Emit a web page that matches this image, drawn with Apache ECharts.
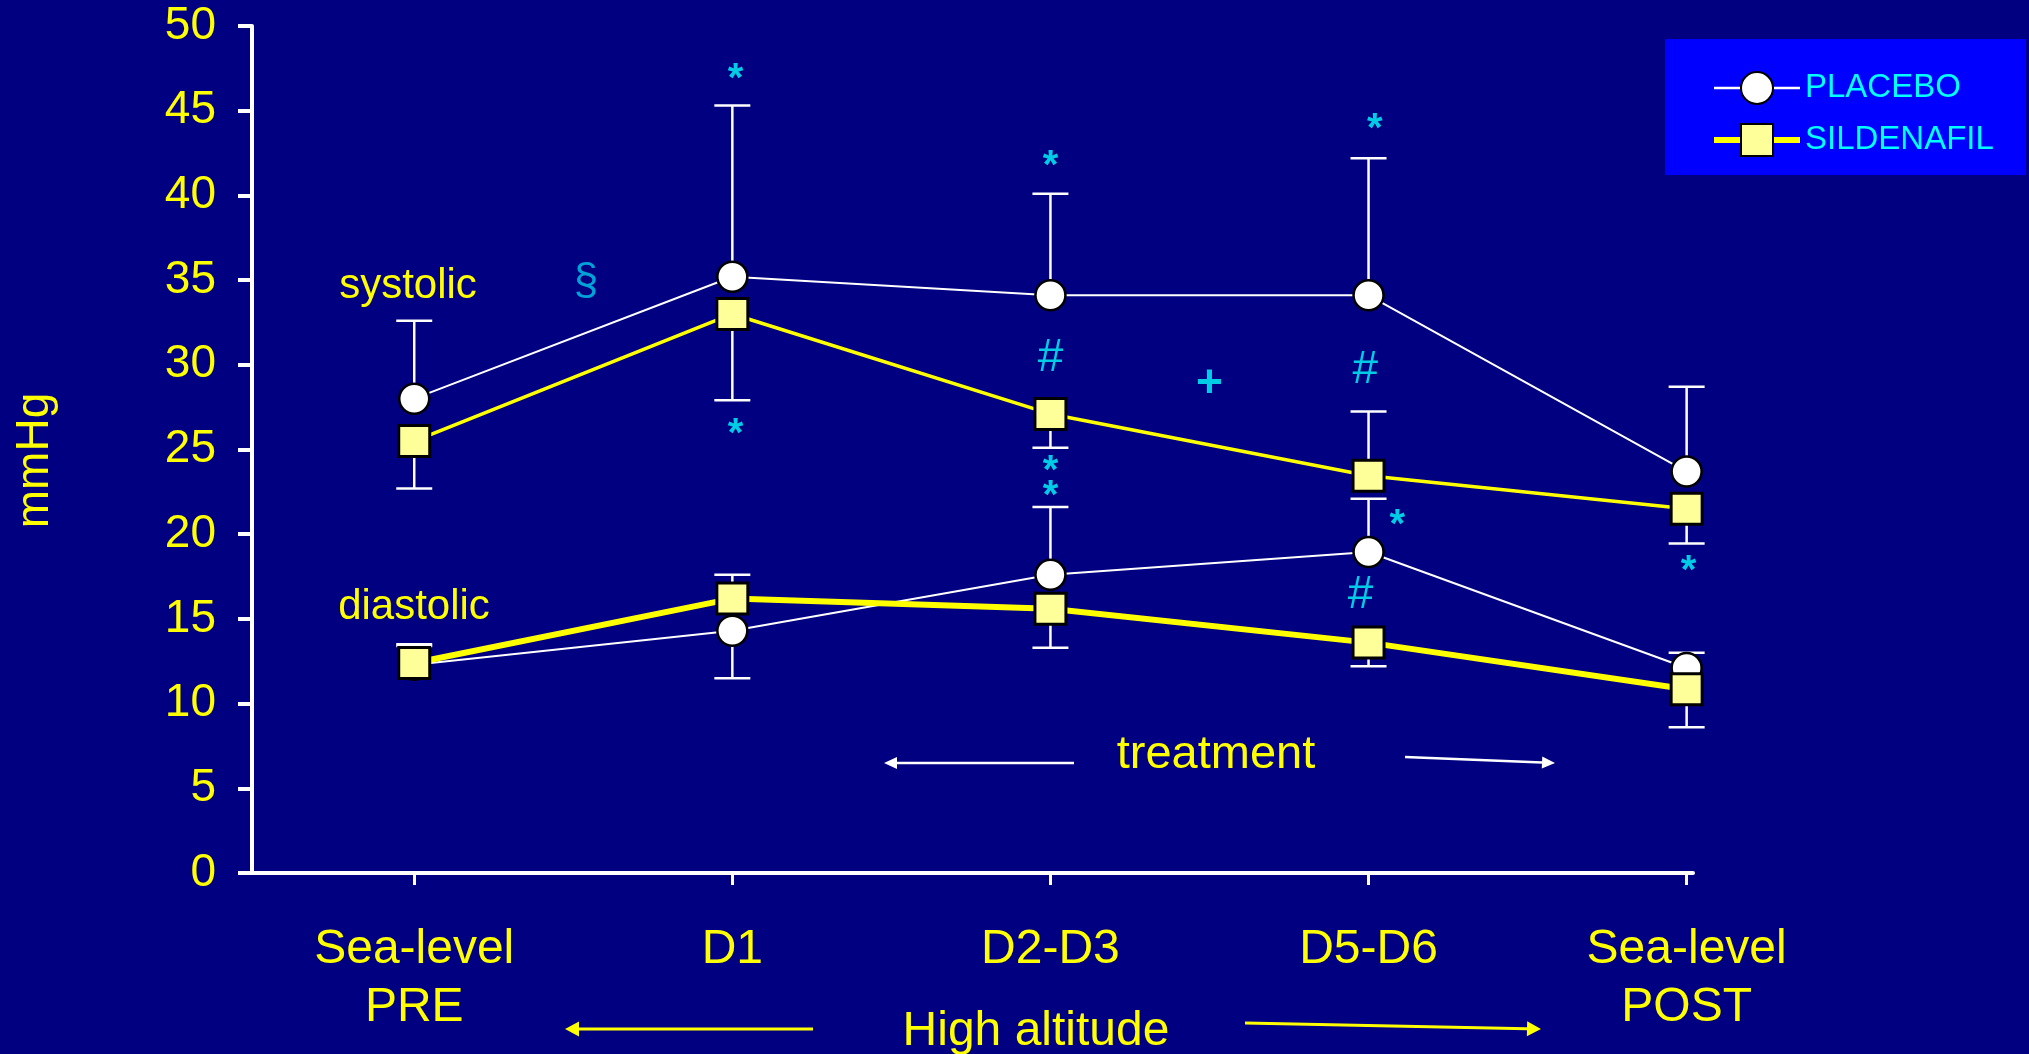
<!DOCTYPE html>
<html><head><meta charset="utf-8">
<script src="https://cdn.jsdelivr.net/npm/echarts@6/dist/echarts.min.js"></script>
<style>html,body{margin:0;padding:0;background:#000080;overflow:hidden}#c{width:2029px;height:1054px;}</style>
</head><body><div id="c"></div>
<script>
// ---- data ----
const categories = ['Sea-level\nPRE', 'D1', 'D2-D3', 'D5-D6', 'Sea-level\nPOST'];
const categoryPositions = [0, 1, 2, 3, 4];
const placeboSystolic = [28.0, 35.2, 34.1, 34.1, 23.7];
const placeboSystolicErrEnd = [32.6, 45.3, 40.1, 42.2, 28.7];
const sildenafilSystolic = [25.5, 33.0, 27.1, 23.45, 21.5];
const sildenafilSystolicErrEnd = [22.7, 27.9, 25.1, 27.25, 19.45];
const placeboDiastolic = [12.3, 14.3, 17.6, 18.95, 12.1];
const placeboDiastolicErrEnd = [13.4, 11.5, 21.6, 22.1, 13.0];
const sildenafilDiastolic = [12.4, 16.2, 15.6, 13.6, 10.85];
const sildenafilDiastolicErrEnd = [13.5, 17.6, 13.3, 12.2, 8.6];
const annotationText = ['*', '§', '*', '*', '#', '+', '*', '#', '*', '*', '*', '#', '*'];
const annotationX = [1.01, 0.54, 1.01, 2.0, 2.0, 2.5, 3.02, 2.99, 2.0, 2.0, 3.09, 2.975, 4.006];
const annotationY = [47.2, 35.1, 26.3, 42.1, 30.6, 29.1, 44.3, 29.9, 24.1, 22.6, 20.9, 16.6, 18.2];

// ---- helpers ----
const FONT = 'Liberation Sans, Arial, sans-serif';
const YELLOW = '#FFFF00';
const CYAN = '#00FFFF';

function pairs(vals) { return vals.map((v, i) => [categoryPositions[i], v]); }
function errData(vals, ends) { return vals.map((v, i) => [categoryPositions[i], v, ends[i]]); }

function errRender(params, api) {
  const x = api.value(0), y0 = api.value(1), y1 = api.value(2);
  const p0 = api.coord([x, y0]), p1 = api.coord([x, y1]);
  const hw = 18;
  const style = { stroke: '#FFFFFF', lineWidth: 2.5 };
  return { type: 'group', children: [
    { type: 'line', shape: { x1: p0[0], y1: p0[1], x2: p1[0], y2: p1[1] }, style },
    { type: 'line', shape: { x1: p1[0] - hw, y1: p1[1], x2: p1[0] + hw, y2: p1[1] }, style }
  ]};
}

function errSeries(vals, ends) {
  return {
    type: 'custom', renderItem: errRender, data: errData(vals, ends),
    encode: { x: 0, y: [1, 2] }, z: 2, silent: true
  };
}

function arrow(x1, y1, x2, y2, color, w, headLen, headW) {
  const ang = Math.atan2(y2 - y1, x2 - x1);
  const bx = x2 - headLen * Math.cos(ang), by = y2 - headLen * Math.sin(ang);
  const px = -Math.sin(ang) * headW / 2, py = Math.cos(ang) * headW / 2;
  return [
    { type: 'line', shape: { x1, y1, x2: bx, y2: by }, style: { stroke: color, lineWidth: w }, z: 5 },
    { type: 'polygon', shape: { points: [[x2, y2], [bx + px, by + py], [bx - px, by - py]] }, style: { fill: color }, z: 5 }
  ];
}

const placeboItem = { color: '#FFFFFF', borderColor: '#000000', borderWidth: 2.5 };
const sildItem = { color: '#FFFF99', borderColor: '#000000', borderWidth: 3 };

function annotLabel(t) {
  if (t === '*') return { color: CYAN, fontSize: 40, fontWeight: 'bold', offset: [0, 7] };
  if (t === '§') return { color: '#00CCEE', fontSize: 44, offset: [0, 3] };
  if (t === '#') return { color: CYAN, fontSize: 46, offset: [0, 4] };
  return { color: CYAN, fontSize: 46, fontWeight: 'bold', offset: [0, 4] };
}

const annotData = annotationText.map((t, i) => ({
  value: [annotationX[i], annotationY[i], t],
  label: annotLabel(t)
}));

const chart = echarts.init(document.getElementById('c'), null, { renderer: 'canvas' });
chart.setOption({
  backgroundColor: '#000080',
  animation: false,
  textStyle: { fontFamily: FONT },
  grid: { left: 252, right: 336, top: 26, bottom: 181, containLabel: false },
  xAxis: {
    type: 'value', min: -0.51, max: 4.02,
    splitLine: { show: false },
    axisLine: { show: true, onZero: false, lineStyle: { color: '#FFFFFF', width: 4 } },
    axisTick: { show: true, customValues: categoryPositions, length: 12, lineStyle: { color: '#FFFFFF', width: 3 } },
    axisLabel: {
      customValues: categoryPositions,
      formatter: v => categories[Math.round(v)],
      color: YELLOW, fontSize: 48, lineHeight: 58, margin: 48, fontFamily: FONT
    }
  },
  yAxis: {
    type: 'value', min: 0, max: 50, interval: 5,
    name: 'mmHg', nameLocation: 'middle', nameGap: 194, nameRotate: 90,
    nameTextStyle: { color: YELLOW, fontSize: 46, fontFamily: FONT, padding: [0, 22, 0, 0] },
    splitLine: { show: false },
    axisLine: { show: true, onZero: false, lineStyle: { color: '#FFFFFF', width: 4 } },
    axisTick: { show: true, length: 14, lineStyle: { color: '#FFFFFF', width: 4 } },
    axisLabel: { color: YELLOW, fontSize: 46, margin: 36, fontFamily: FONT }
  },
  legend: {
    data: [
      { name: 'PLACEBO', lineStyle: { width: 2.5, color: '#FFFFFF' } },
      { name: 'SILDENAFIL', lineStyle: { width: 6, color: YELLOW } }
    ],
    orient: 'vertical', left: 1706, top: 66,
    itemWidth: 86, itemHeight: 40, itemGap: 18,
    selectedMode: false,
    textStyle: { color: CYAN, fontSize: 33, fontFamily: FONT }
  },
  graphic: [
    { type: 'rect', shape: { x: 1665, y: 39, width: 361, height: 136 }, style: { fill: '#0000FF' }, z: 0 },
    { type: 'text', x: 408, y: 286, style: { text: 'systolic', fill: YELLOW, font: '42px ' + FONT, textAlign: 'center', textVerticalAlign: 'middle' }, z: 5 },
    { type: 'text', x: 414, y: 607, style: { text: 'diastolic', fill: YELLOW, font: '42px ' + FONT, textAlign: 'center', textVerticalAlign: 'middle' }, z: 5 },
    { type: 'text', x: 1216, y: 755, style: { text: 'treatment', fill: YELLOW, font: '47px ' + FONT, textAlign: 'center', textVerticalAlign: 'middle' }, z: 5 },
    { type: 'text', x: 1036, y: 1032, style: { text: 'High altitude', fill: YELLOW, font: '48px ' + FONT, textAlign: 'center', textVerticalAlign: 'middle' }, z: 5 },
    ...arrow(1074, 763, 884, 763, '#FFFFFF', 2.5, 13, 12),
    ...arrow(1405, 757, 1555, 763, '#FFFFFF', 2.5, 13, 12),
    ...arrow(813, 1029, 565, 1029, YELLOW, 3, 14, 15),
    ...arrow(1245, 1023, 1541, 1029, YELLOW, 3, 14, 15)
  ],
  series: [
    errSeries(placeboSystolic, placeboSystolicErrEnd),
    errSeries(sildenafilSystolic, sildenafilSystolicErrEnd),
    errSeries(placeboDiastolic, placeboDiastolicErrEnd),
    errSeries(sildenafilDiastolic, sildenafilDiastolicErrEnd),
    {
      name: 'PLACEBO', type: 'line', data: pairs(placeboSystolic), z: 3,
      symbol: 'circle', symbolSize: 30, showAllSymbol: true,
      lineStyle: { color: '#FFFFFF', width: 2 }, itemStyle: placeboItem
    },
    {
      name: 'PLACEBO', type: 'line', data: pairs(placeboDiastolic), z: 3,
      symbol: 'circle', symbolSize: 30, showAllSymbol: true,
      lineStyle: { color: '#FFFFFF', width: 2 }, itemStyle: placeboItem
    },
    {
      name: 'SILDENAFIL', type: 'line', data: pairs(sildenafilDiastolic), z: 4,
      symbol: 'rect', symbolSize: 31, showAllSymbol: true,
      lineStyle: { color: YELLOW, width: 6 }, itemStyle: sildItem
    },
    {
      name: 'SILDENAFIL', type: 'line', data: pairs(sildenafilSystolic), z: 4,
      symbol: 'rect', symbolSize: 31, showAllSymbol: true,
      lineStyle: { color: YELLOW, width: 3.5 }, itemStyle: sildItem
    },
    {
      name: 'annotations', type: 'scatter', data: annotData, z: 5,
      symbol: 'circle', symbolSize: 1, itemStyle: { color: 'rgba(0,0,0,0)' }, silent: true,
      label: {
        show: true, position: 'inside', fontSize: 44, fontFamily: FONT,
        formatter: p => p.value[2]
      }
    }
  ]
});
</script>
</body></html>
